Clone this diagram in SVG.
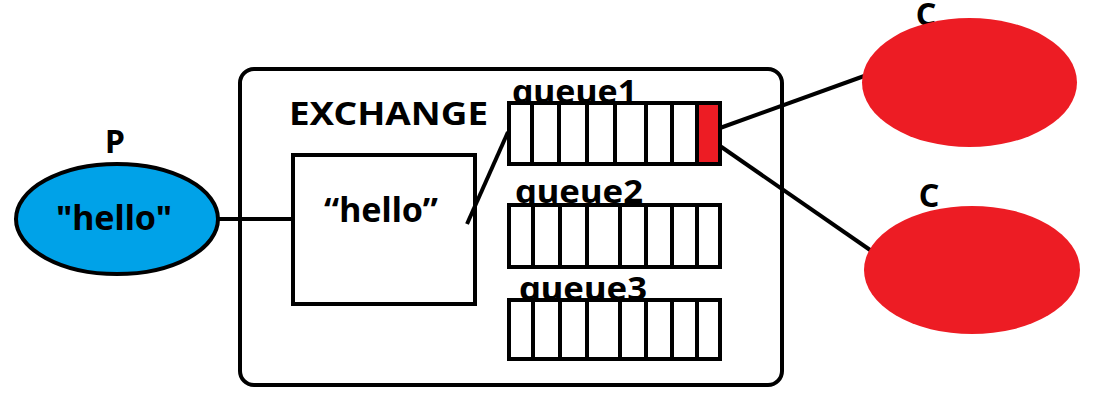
<svg xmlns="http://www.w3.org/2000/svg" width="1095" height="402" viewBox="0 0 1095 402">
<style>
.t{font-family:"Noto Sans","Liberation Sans",sans-serif;font-weight:bold;fill:#000}
.q{fill:#fff;stroke:#000;stroke-width:4}
.d{stroke:#000;stroke-width:4}
.c{stroke:#000;stroke-width:4;fill:none}
</style>
<rect width="1095" height="402" fill="#fff"/>
<g id="exchange">
<rect x="240" y="69" width="542" height="316" rx="14" fill="#fff" stroke="#000" stroke-width="4"/>
<text class="t" x="289" y="125" font-size="32" textLength="199" lengthAdjust="spacingAndGlyphs">EXCHANGE</text>
</g>
<g id="hellobox">
<rect x="293" y="155" width="182" height="149" fill="#fff" stroke="#000" stroke-width="4"/>
<text class="t" x="381" y="222" font-size="34" text-anchor="middle">“hello”</text>
</g>
<g id="queue1">
<text class="t" x="512" y="103" font-size="32" textLength="125" lengthAdjust="spacingAndGlyphs">queue1</text>
<rect class="q" x="509" y="103" width="211" height="61"/>
<rect x="697" y="105" width="21" height="57" fill="#ED1C24"/>
<path class="d" d="M532 103V164M559 103V164M587 103V164M615 103V164M646 103V164M672 103V164M697 103V164"/>
</g>
<g id="queue2">
<text class="t" x="515" y="203" font-size="32" textLength="128" lengthAdjust="spacingAndGlyphs">queue2</text>
<rect class="q" x="509" y="205" width="211" height="62"/>
<path class="d" d="M533 205V267M560 205V267M587 205V267M620 205V267M646 205V267M672 205V267M697 205V267"/>
</g>
<g id="queue3">
<text class="t" x="519" y="300" font-size="32" textLength="128" lengthAdjust="spacingAndGlyphs">queue3</text>
<rect class="q" x="509" y="300" width="211" height="59"/>
<path class="d" d="M533 300V359M560 300V359M587 300V359M620 300V359M646 300V359M672 300V359M697 300V359"/>
</g>
<g id="connectors">
<line class="c" x1="218" y1="219" x2="293" y2="219"/>
<line class="c" x1="467" y1="224" x2="508" y2="132"/>
<line class="c" x1="720" y1="128" x2="867" y2="75"/>
<line class="c" x1="720" y1="146" x2="873" y2="252"/>
</g>
<g id="P">
<text class="t" x="115" y="153" font-size="32" text-anchor="middle">P</text>
<ellipse cx="117" cy="219" rx="101" ry="55" fill="#00A2E8" stroke="#000" stroke-width="4"/>
<text class="t" x="114" y="230" font-size="34" text-anchor="middle">"hello"</text>
</g>
<g id="C1">
<text class="t" x="926" y="26" font-size="32" text-anchor="middle">C</text>
<ellipse cx="969.5" cy="82.5" rx="107.5" ry="64.5" fill="#ED1C24"/>
</g>
<g id="C2">
<text class="t" x="929" y="207" font-size="32" text-anchor="middle">C</text>
<ellipse cx="972" cy="270" rx="108" ry="64" fill="#ED1C24"/>
</g>
</svg>
